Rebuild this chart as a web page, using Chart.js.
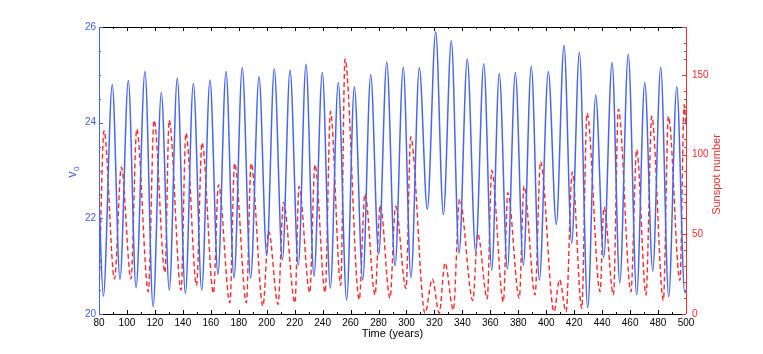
<!DOCTYPE html>
<html>
<head>
<meta charset="utf-8">
<script src="https://cdn.jsdelivr.net/npm/chart.js@4.4.0/dist/chart.umd.min.js"></script>
<style>
  html, body { margin: 0; padding: 0; background: #fff; }
</style>
</head>
<body>
<canvas id="grafico" width="763" height="354"></canvas>
<script>
// v0 (curva azul) - anos e valores nos extremos
const anosV0 = [80, 83.1, 89.5, 95.0, 101.0, 106.5, 112.9, 118.7, 124.6, 130.3, 136.0, 141.8, 147.5, 153.5, 159.4,
  165.1, 170.9, 176.6, 182.5, 188.5, 194.5, 200.0, 205.4, 211.2, 216.7, 222.6, 228.1, 233.8, 239.8, 245.5,
  251.2, 257.2, 262.7, 268.7, 274.4, 280.1, 285.9, 291.8, 297.7, 303.2, 309.2, 314.9, 320.9, 326.4, 332.1,
  337.6, 343.5, 349.5, 355.3, 361.0, 366.4, 372.2, 377.9, 383.6, 389.3, 395.1, 401.5, 407.2, 412.7, 418.2,
  423.7, 429.7, 435.4, 441.1, 447.1, 452.6, 458.7, 464.7, 470.5, 476.2, 481.9, 487.6, 493.4, 499.1, 500];
const valoresV0 = [22.4, 20.37, 24.8, 20.72, 24.88, 20.55, 25.07, 20.15, 24.63, 20.5, 24.93, 20.43, 24.82, 20.5, 24.89,
  20.83, 25.07, 20.75, 25.15, 20.75, 24.96, 21.23, 25.12, 21.13, 25.1, 21.02, 25.22, 20.79, 25.05, 20.54,
  24.84, 20.29, 24.75, 20.71, 25.0, 21.25, 25.27, 21.01, 25.16, 20.76, 25.15, 22.19, 25.9, 22.08, 25.71,
  21.27, 25.33, 21.3, 25.23, 20.92, 25.03, 20.94, 25.05, 21.02, 25.18, 20.71, 25.07, 21.87, 25.62, 21.48,
  25.47, 20.13, 24.58, 21.18, 25.26, 20.65, 25.43, 20.4, 24.84, 20.9, 25.16, 20.36, 24.75, 20.45, 20.5];

// numero de manchas solares (curva vermelha tracejada)
const anosSol = [80, 83.6, 91.1, 96.0, 102.9, 107.0, 115.3, 119.4, 127.2, 130.2, 138.7, 142.2, 149.8, 153.7, 161.9,
  165.5, 173.7, 177.0, 185.5, 188.8, 197.3, 201.4, 208.1, 212.0, 220.2, 223.1, 230.8, 234.5, 241.8, 245.6,
  253.0, 256.0, 266.2, 270.3, 277.5, 281.2, 288.2, 292.2, 299.7, 303.0, 313.3, 318.5, 323.4, 327.6, 333.5,
  338.0, 347.5, 351.0, 357.8, 361.0, 369.3, 372.5, 380.7, 384.1, 392.0, 395.9, 405.6, 409.5, 414.2, 418.6,
  425.4, 429.2, 438.5, 441.3, 448.1, 451.6, 460.6, 464.7, 471.4, 475.5, 483.8, 487.4, 495.7, 498.7, 500];
const valoresSol = [12, 115, 22, 92, 22, 116, 14, 121.5, 26, 121.5, 15, 113.5, 18, 107.5, 13,
  81, 7, 94.5, 7, 94.5, 5, 52, 6, 70, 7, 80, 13.5, 93.6, 13.5, 127,
  18, 160, 9, 75.3, 12, 68.3, 10, 67.5, 16, 111, 0.5, 22, 0.5, 32, 2.5,
  72, 8.5, 50.3, 9.5, 90, 7.7, 76, 10, 80.3, 12, 95.5, 1.5, 21.5, 1.5, 89,
  3.6, 126, 14, 67, 12, 128.5, 14, 103, 12, 124, 8.5, 124, 21, 131.5, 118];

const ticksX = [80, 500, 20];
const ticksV0 = [20, 26, 2];
const ticksSol = [0, 180, 50];

const AZUL = '#4766f0';
const AZUL_TXT = '#3c5cf2';
const VERMELHO = '#ff2a2a';
const FONTE = '"Liberation Sans", Arial, sans-serif';

// marcas para dentro do grafico, como no original
const marcasInternas = {
  id: 'marcasInternas',
  afterDatasetsDraw(chart) {
    const { ctx, chartArea: a, scales } = chart;
    const x = scales.x, y = scales.y, y1 = scales.y1;
    ctx.save();
    ctx.lineWidth = 1;

    ctx.strokeStyle = '#000';
    ctx.beginPath();
    for (let t = 80; t <= 500; t += 10) {
      const px = Math.round(x.getPixelForValue(t)) + 0.5;
      const len = t % 20 === 0 ? 4 : 2;
      ctx.moveTo(px, a.bottom); ctx.lineTo(px, a.bottom - len);
      ctx.moveTo(px, a.top); ctx.lineTo(px, a.top + len);
    }
    ctx.moveTo(a.left, Math.round(a.top) + 0.5); ctx.lineTo(a.right, Math.round(a.top) + 0.5);
    ctx.moveTo(a.left, Math.round(a.bottom) + 0.5); ctx.lineTo(a.right, Math.round(a.bottom) + 0.5);
    ctx.stroke();

    ctx.strokeStyle = AZUL;
    ctx.beginPath();
    for (let i = 0; i <= 12; i++) {
      const v = 20 + i * 0.5;
      const py = Math.round(y.getPixelForValue(v)) + 0.5;
      const len = i % 4 === 0 ? 4 : 2;
      ctx.moveTo(a.left, py); ctx.lineTo(a.left + len, py);
      ctx.moveTo(a.right, py); ctx.lineTo(a.right - len, py);
    }
    ctx.moveTo(Math.round(a.left) + 0.5, a.top); ctx.lineTo(Math.round(a.left) + 0.5, a.bottom);
    ctx.stroke();

    ctx.strokeStyle = VERMELHO;
    ctx.beginPath();
    for (let s = 0; s <= 180; s += 10) {
      const py = Math.round(y1.getPixelForValue(s)) + 0.5;
      const len = s % 50 === 0 ? 4 : 2;
      ctx.moveTo(a.right, py); ctx.lineTo(a.right - len, py);
    }
    ctx.moveTo(Math.round(a.right) + 0.5, a.top); ctx.lineTo(Math.round(a.right) + 0.5, a.bottom);
    ctx.stroke();

    const meio = (a.top + a.bottom) / 2;
    ctx.textAlign = 'left';
    ctx.textBaseline = 'alphabetic';

    // titulo do eixo esquerdo: v com indice 0
    ctx.save();
    ctx.fillStyle = AZUL_TXT;
    ctx.translate(a.left - 23, meio + 7);
    ctx.rotate(-Math.PI / 2);
    ctx.font = '12px ' + FONTE;
    ctx.fillText('v', 0, 0);
    const wv = ctx.measureText('v').width;
    ctx.font = '8px ' + FONTE;
    ctx.fillText('0', wv + 0.5, 3);
    ctx.restore();

    // titulo do eixo direito, lido de baixo para cima
    ctx.fillStyle = VERMELHO;
    ctx.font = '11px ' + FONTE;
    ctx.textAlign = 'center';
    ctx.textBaseline = 'middle';
    ctx.translate(a.right + 31, meio + 4);
    ctx.rotate(-Math.PI / 2);
    ctx.fillText('Sunspot number', 0, 0);
    ctx.restore();
  }
};

const ctx = document.getElementById('grafico').getContext('2d');
const grafico = new Chart(ctx, {
  type: 'line',
  data: {
    datasets: [
      {
        label: 'v0',
        data: anosV0.map((t, i) => ({ x: t, y: valoresV0[i] })),
        yAxisID: 'y',
        borderColor: AZUL,
        borderWidth: 1.5,
        pointRadius: 0,
        fill: false,
        cubicInterpolationMode: 'monotone'
      },
      {
        label: 'Sunspot number',
        data: anosSol.map((t, i) => ({ x: t, y: valoresSol[i] })),
        yAxisID: 'y1',
        borderColor: VERMELHO,
        borderWidth: 1.4,
        borderDash: [5, 3],
        pointRadius: 0,
        fill: false,
        cubicInterpolationMode: 'monotone'
      }
    ]
  },
  options: {
    responsive: false,
    animation: false,
    layout: { padding: { left: 62, right: 36, top: 27, bottom: 9 } },
    plugins: { legend: { display: false }, tooltip: { enabled: false } },
    scales: {
      x: {
        type: 'linear',
        min: ticksX[0], max: ticksX[1],
        grid: { display: false, drawTicks: false },
        border: { display: false },
        ticks: { stepSize: ticksX[2], color: '#000', padding: 3, maxRotation: 0, font: { family: FONTE, size: 10 } },
        title: { display: true, text: 'Time (years)', color: '#000', font: { family: FONTE, size: 11 }, padding: { top: 2, bottom: 4 } },
        afterFit: s => { s.height = 31; }
      },
      y: {
        position: 'left',
        min: ticksV0[0], max: ticksV0[1],
        grid: { display: false, drawTicks: false },
        border: { display: false },
        ticks: { stepSize: ticksV0[2], color: AZUL_TXT, padding: 3, font: { family: FONTE, size: 10 } },
        afterFit: s => { s.width = 37; }
      },
      y1: {
        position: 'right',
        min: ticksSol[0], max: ticksSol[1],
        grid: { display: false, drawTicks: false },
        border: { display: false },
        ticks: { stepSize: ticksSol[2], includeBounds: false, color: VERMELHO, padding: 6, font: { family: FONTE, size: 10 } },
        afterFit: s => { s.width = 41; }
      }
    }
  },
  plugins: [marcasInternas]
});
</script>
</body>
</html>
